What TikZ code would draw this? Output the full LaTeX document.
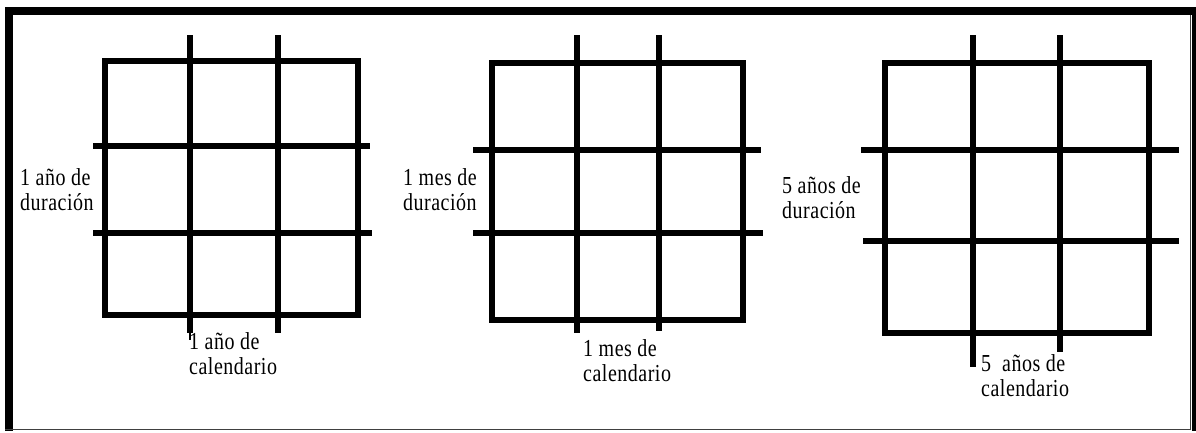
\documentclass[tikz,border=0pt]{standalone}
\usepackage{fontspec}
\setmainfont[LetterSpace=2.5]{Liberation Serif}
\newcommand{\stlbl}[1]{\scalebox{1}[1.22]{\fontsize{20}{20.5}\selectfont\begin{tabular}{@{}l@{}}#1\end{tabular}}}
\tikzset{
  gridline/.style={line width=5.5pt},
  lbl/.style={inner sep=0pt, anchor=west},
}
\begin{document}
\begin{tikzpicture}[x=1pt,y=-1pt]
\useasboundingbox (0,0) rectangle (1196,432);
% frame
\fill[white] (0,0) rectangle (1196,432);
\fill[black] (5,7) rectangle (1196,15);
\fill[black] (5,7) rectangle (13,431);
\fill[black] (1192,7) rectangle (1196,431);
\draw[line width=1.5pt, black!75] (5,429.5) -- (1190.5,429.5) -- (1190.5,15);
% grid 1
\draw[gridline] (105,61) rectangle (358,315);
\draw[gridline] (190,35) -- (190,333);
\draw[line width=1.5pt] (190,333) -- (190,340);
\draw[gridline] (278,35) -- (278,333);
\draw[gridline] (93,146) -- (370,146);
\draw[gridline] (93,233) -- (372,233);
\node[lbl] (d1) at (20,193) {\stlbl{1 año de\\duración}};
\node[lbl] (c1) at (189,357) {\stlbl{1 año de\\calendario}};
% grid 2
\draw[gridline] (492,63) rectangle (743,320);
\draw[gridline] (577,35) -- (577,333);
\draw[gridline] (659,35) -- (659,331);
\draw[gridline] (473,150) -- (761,150);
\draw[gridline] (473,233) -- (763,233);
\node[lbl] (d2) at (403,193) {\stlbl{1 mes de\\duración}};
\node[lbl] (c2) at (583,364) {\stlbl{1 mes de\\calendario}};
% grid 3
\draw[gridline] (885,63) rectangle (1149,333);
\draw[gridline] (973,35) -- (973,367);
\draw[gridline] (1060,35) -- (1060,352);
\draw[gridline] (861,150) -- (1179,150);
\draw[gridline] (863,241) -- (1179,241);
\node[lbl] (d3) at (782,201) {\stlbl{5 años de\\duración}};
\node[lbl] (c3) at (981,379) {\stlbl{5\ \ años de\\calendario}};
\end{tikzpicture}
\end{document}
